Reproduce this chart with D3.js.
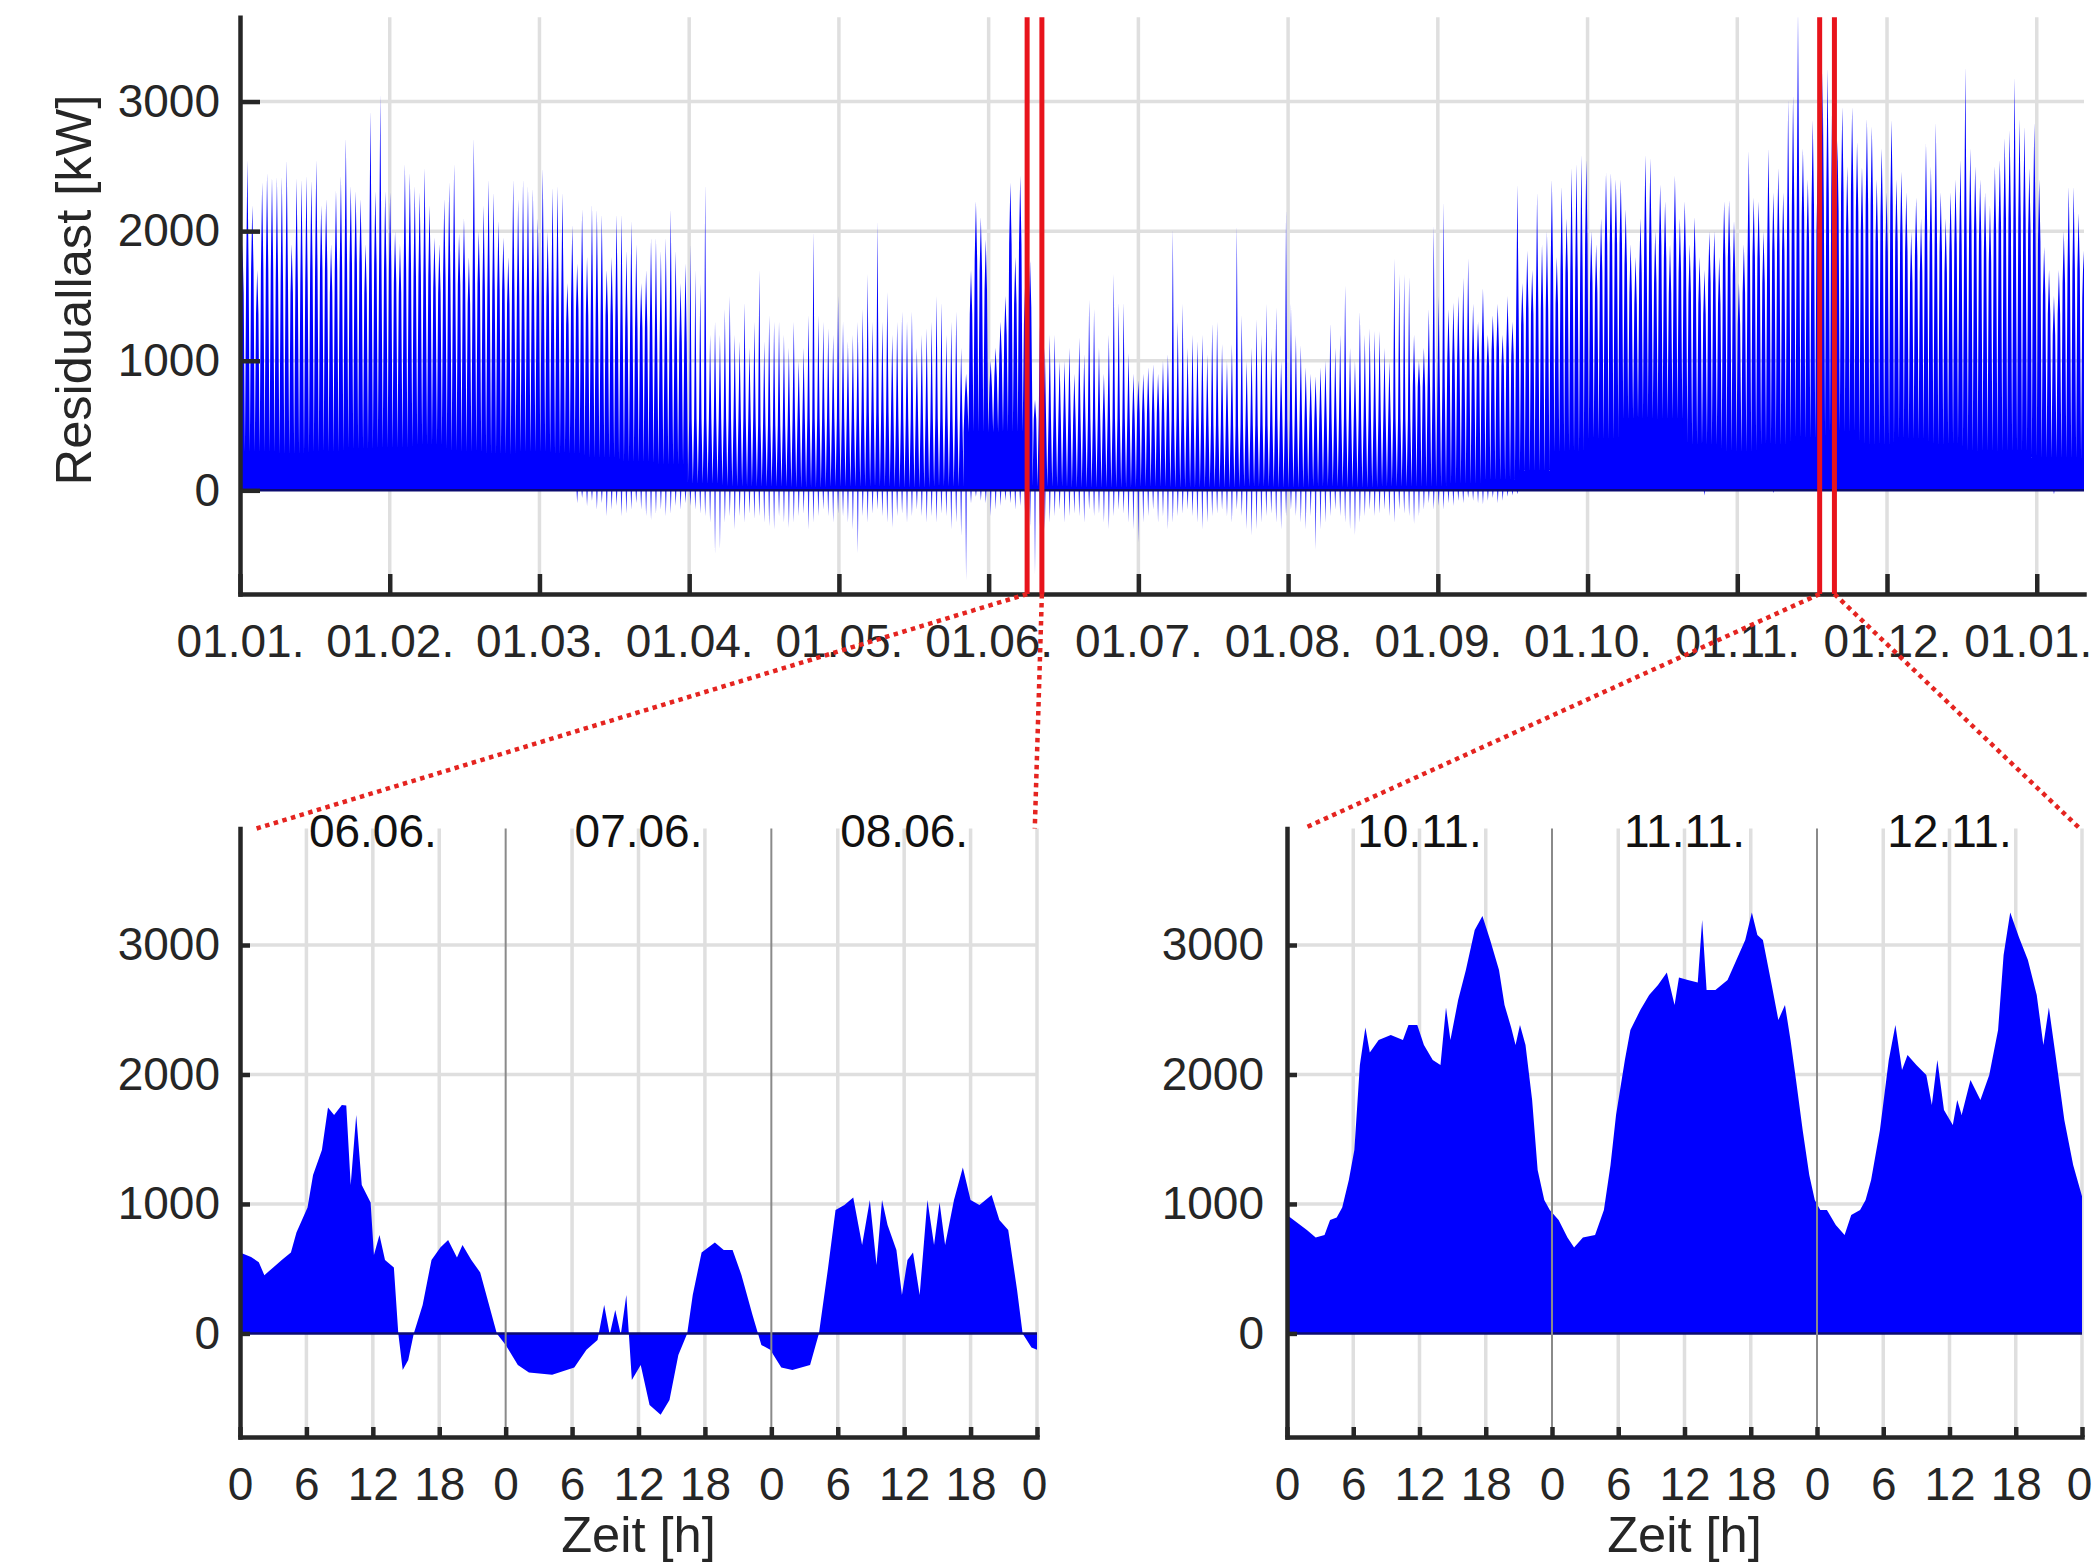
<!DOCTYPE html>
<html>
<head>
<meta charset="utf-8">
<script src="https://cdn.jsdelivr.net/npm/d3@7"></script>
<style>
  body { margin: 0; background: #fff; }
  svg text { font-family: "Liberation Sans", Arial, Helvetica, sans-serif; }
</style>
</head>
<body>
<svg id="graphic" width="2093" height="1564"></svg>
<script>
// ---- data ----

// top panel: daily peak residual load [kW], day 0 = 01.01.
const dayPeak = [
  1900, 2550, 2200, 1700, 2380, 2450, 2420, 2420, 2420, 2550,
  1900, 2410, 2400, 2430, 2390, 2550, 2200, 2250, 1900, 2320,
  2430, 2720, 2350, 2310, 2250, 1900, 2930, 2310, 3060, 2310,
  2300, 2000, 1900, 2520, 2450, 2350, 2300, 2490, 2200, 1950,
  1900, 2250, 2380, 2520, 1980, 2100, 1800, 2720, 2000, 2200,
  2400, 2300, 2080, 1950, 1800, 2400, 2250, 2400, 2350, 2330,
  2100, 2490, 2000, 2340, 2350, 2300, 1600, 2050, 1750, 2170,
  1800, 2210, 2170, 2130, 1700, 1800, 2130, 2130, 1850, 2080,
  1900, 1600, 1700, 1950, 1950, 1850, 1950, 2170, 1850, 1600,
  1750, 1900, 1700, 1600, 2370, 1200, 1300, 1200, 1400, 1500,
  1200, 1150, 1450, 1100, 1300, 1700, 1150, 1350, 1300, 1300,
  1200, 1100, 1300, 1000, 1100, 1350, 2000, 1350, 1300, 1250,
  1200, 1500, 1300, 1150, 1200, 1300, 1400, 1670, 1300, 2080,
  1300, 1530, 1200, 1300, 1380, 1300, 1380, 1100, 1200, 1250,
  1300, 1500, 1450, 1200, 1300, 1380, 1100, 900, 1700, 2230,
  2110, 1935, 1000, 1100, 1300, 1500, 2375, 1800, 2430, 1600,
  1770, 700, 1270, 1100, 1200, 1200, 1000, 1000, 1100, 900,
  1180, 1050, 1470, 1400, 1100, 900, 1200, 1670, 1450, 1450,
  1060, 900, 850, 900, 950, 970, 900, 1000, 1050, 2020,
  1300, 1440, 1100, 1200, 1150, 1200, 1050, 1290, 1300, 1130,
  1000, 1130, 2050, 1350, 1000, 1100, 1320, 1200, 1440, 1100,
  1410, 1000, 2170, 1440, 1200, 1120, 950, 900, 880, 950,
  1000, 1290, 1100, 1200, 1580, 1100, 1000, 1380, 1200, 1250,
  1230, 1230, 1100, 1000, 1790, 1670, 1670, 1650, 1200, 1000,
  1100, 1400, 2050, 1500, 2230, 1400, 1450, 1500, 1640, 1790,
  1440, 1300, 1560, 1200, 1350, 1440, 1200, 1500, 1300, 2360,
  1600, 1850, 1700, 2300, 1900, 2000, 2400, 1800, 2345, 2100,
  2490, 2520, 2590, 2550, 2000, 1900, 2100, 2450, 2450, 2400,
  2400, 2170, 1900, 1800, 2100, 2590, 2565, 2000, 2360, 2230,
  1900, 2430, 2100, 2230, 1900, 2110, 1800, 1700, 2000, 2000,
  1800, 2230, 2240, 2080, 1600, 1900, 2620, 2260, 2230, 2000,
  2640, 2300, 2490, 2300, 3020, 3050, 3700, 2640, 2400, 2860,
  2500, 3230, 3260, 3270, 2700, 2960, 2500, 2960, 2690, 2500,
  2870, 2810, 2400, 2640, 2300, 2860, 2400, 2460, 2300, 2000,
  2260, 2100, 2680, 2500, 2840, 2300, 2100, 2300, 2400, 2550,
  3270, 2640, 2500, 2400, 2300, 2200, 2500, 2550, 2720, 2780,
  3190, 2870, 2810, 2490, 2840, 2400, 1880, 1700, 1500, 1700,
  2000, 2345, 2345, 2140, 1850
];

// top panel: daily negative dips [kW], from day 68 on
const dipStartDay = 68;
const dayDips = [
  -100, -60, -120, -80, -150, -100, -200, -150, -120, -200, -180, -150,
  -100, -150, -200, -230, -180, -150, -200, -180, -120, -150, -100, -120, -150, -180, -200,
  -250, -490, -450, -250, -200, -300, -200, -250, -180, -220, -200, -250, -280, -300, -200,
  -250, -290, -250, -200, -180, -300, -250, -200, -150, -200, -250, -180, -200, -250, -300,
  -490, -200, -250, -180, -150, -200, -250, -290, -200, -180, -250, -200, -150, -200, -250,
  -200, -250, -180, -200, -300, -250, -350, -700, -100, -50, -80, -100, -200, -150, -120,
  -80, -100, -150, -120, -200, -280, -650, -280, -300, -250, -200, -150, -250, -200, -180,
  -200, -250, -150, -200, -180, -250, -300, -200, -150, -180, -250, -300, -400, -250, -200,
  -150, -250, -200, -300, -250, -200, -180, -150, -200, -250, -300, -250, -200, -180, -150,
  -200, -250, -150, -200, -300, -350, -300, -250, -200, -180, -250, -300, -200, -150, -200,
  -250, -300, -200, -460, -300, -250, -200, -150, -200, -250, -300, -345, -250, -200, -150,
  -200, -180, -150, -200, -250, -150, -180, -200, -260, -200, -150, -100, -150, -120, -150,
  -100, -120, -80, -100, -60, -80, -100, -110, -80, -60, -100, -80, -50, -40, -30
];
const lateDips = [[297, -40], [311, -20], [368, -30]];

// top panel: weekly night-time base and daytime level [kW]
const weekBase = [
  300, 280, 300, 320, 330, 350, 300, 280, 300,
  280, 250, 220, 200,
  50, 30, 30, 20, 30,
  30, 20, 30,
  450, 450,
  30, 20, 20, 30, 20, 20, 30, 20, 30, 20, 30, 30, 50,
  80, 150, 300, 400, 550, 550, 350, 300, 350, 400, 450, 350, 400, 350, 300, 300, 250, 250
];
const weekLevel = [
  1700, 1600, 1700, 1750, 1700, 1650, 1600, 1550, 1500,
  1450, 1350, 1250, 1150,
  550, 550, 500, 550, 550,
  600, 550, 550,
  1800, 1900,
  550, 550, 550, 600, 550, 500, 500, 550, 550, 550, 550, 800, 1000,
  1100, 1400, 1700, 1900, 1900, 1900, 1700, 1800, 1900, 2200, 2300, 2200, 2000, 1900, 2000, 2100, 2100, 1700
];

const monthLabels = ['01.01.', '01.02.', '01.03.', '01.04.', '01.05.', '01.06.', '01.07.',
  '01.08.', '01.09.', '01.10.', '01.11.', '01.12.', '01.01.'];

// detail windows (start day on the top axis) and their day labels
const zoomWindows = [
  { start: 159.9, days: ['06.06.', '07.06.', '08.06.'] },
  { start: 320.9, days: ['10.11.', '11.11.', '12.11.'] }
];

// lower panels: [hour, residual load kW]
const loadJune = [
  [0, 625], [1, 590], [1.7, 550], [2.2, 450], [3, 510], [3.8, 570], [4.6, 625], [5.1, 780], [5.6, 876],
  [6.1, 973], [6.6, 1224], [7.4, 1417], [7.95, 1745], [8.5, 1687], [9.2, 1765], [9.6, 1760], [10, 1146],
  [10.5, 1687], [11, 1146], [11.8, 1012], [12.1, 606], [12.6, 760], [13.1, 568], [13.9, 510], [14.3, 0],
  [14.7, -282], [15.2, -205], [15.7, 0], [16.5, 220], [17.3, 568], [18.1, 664], [18.8, 722], [19.6, 587],
  [20.1, 683], [20.9, 568], [21.7, 471], [22.5, 220], [23.2, 0], [24, -89], [25.1, -243], [26.1, -301],
  [28.2, -320], [30.2, -263], [31.3, -127], [32.3, -50], [32.9, 220], [33.4, -10], [33.9, 181], [34.4, -10],
  [34.9, 297], [35.4, -359], [36.2, -243], [37, -552], [38, -629], [38.8, -514], [39.6, -166], [40.4, 0],
  [40.9, 297], [41.7, 625], [42.9, 703], [43.7, 645], [44.5, 645], [45.3, 452], [46.3, 143], [47.1, -89],
  [47.9, -127], [48.9, -263], [49.9, -282], [51.5, -243], [52.3, 0], [53.1, 490], [53.8, 953], [54.6, 992],
  [55.4, 1050], [56.2, 683], [56.9, 1031], [57.5, 529], [58, 1031], [58.5, 838], [59.3, 645], [59.8, 297],
  [60.3, 568], [60.8, 625], [61.4, 297], [62.1, 1031], [62.7, 683], [63.2, 1012], [63.7, 683], [64.5, 1031],
  [65.3, 1282], [66, 1031], [66.8, 992], [67.9, 1070], [68.6, 876], [69.4, 799], [70.2, 336], [70.7, 0],
  [71.5, -108], [72, -127]
];
const loadNov = [
  [0, 915], [0.9, 857], [1.8, 799], [2.6, 741], [3.4, 761], [3.9, 876], [4.5, 896], [5, 973], [5.6, 1185],
  [6.1, 1417], [6.6, 2073], [7.1, 2363], [7.5, 2170], [8.3, 2266], [9.4, 2305], [10.5, 2266], [11, 2382],
  [11.8, 2382], [12.4, 2228], [13.2, 2112], [13.9, 2073], [14.4, 2517], [14.8, 2266], [15.5, 2575],
  [16.2, 2807], [17, 3116], [17.7, 3224], [18.4, 3039], [19.2, 2807], [19.7, 2537], [20.3, 2363],
  [20.7, 2228], [21.1, 2382], [21.6, 2228], [22.2, 1803], [22.7, 1263], [23.3, 1031], [23.8, 954],
  [24.6, 876], [25.4, 741], [26, 664], [26.8, 741], [27.9, 761], [28.7, 954], [29.3, 1301], [29.8, 1687],
  [30.6, 2112], [31.1, 2344], [32, 2498], [32.8, 2614], [33.6, 2691], [34.4, 2788], [35.1, 2537],
  [35.5, 2749], [36.3, 2730], [37.2, 2710], [37.6, 3193], [38, 2653], [38.8, 2653], [39.9, 2730],
  [40.7, 2884], [41.5, 3039], [42.1, 3251], [42.6, 3077], [43.1, 3039], [43.9, 2691], [44.5, 2421],
  [45.1, 2537], [45.6, 2266], [46.1, 1958], [46.7, 1571], [47.3, 1224], [47.8, 1031], [48.3, 954],
  [48.9, 954], [49.7, 838], [50.5, 761], [51.1, 915], [51.9, 954], [52.4, 1031], [52.9, 1185],
  [53.7, 1571], [54.5, 2112], [55.1, 2382], [55.7, 2035], [56.2, 2151], [57, 2073], [57.9, 1996],
  [58.4, 1764], [58.9, 2112], [59.5, 1726], [60.3, 1610], [60.7, 1803], [61.1, 1687], [61.9, 1958],
  [62.8, 1803], [63.6, 1996], [64.4, 2344], [64.9, 2923], [65.5, 3251], [66.3, 3058], [67.1, 2884],
  [67.9, 2614], [68.5, 2228], [69, 2517], [69.6, 2151], [70.4, 1648], [71.2, 1301], [72, 1060]
];

const yTickValues = [0, 1000, 2000, 3000];
const hourTicks = d3.range(0, 73, 6);

// ---- styling ----
const FONT = '"Liberation Sans", Arial, Helvetica, sans-serif';
const blue = '#0000ff';
const axisColour = '#262626';
const gridColour = '#dfdfdf';
const red = '#e8141c';

const svg = d3.select('#graphic');

function styleAxis(g) {
  g.attr('font-size', 46).attr('font-family', FONT);
  g.select('.domain').attr('stroke', axisColour).attr('stroke-width', 4.5).attr('stroke-linecap', 'square');
  g.selectAll('.tick line').attr('stroke', axisColour).attr('stroke-width', 4.5);
  g.selectAll('.tick text').attr('fill', axisColour);
}

// ================= top panel =================
const xTop = d3.scaleLinear().domain([0, 374.6]).range([240, 2084]);
const yTop = d3.scaleLinear().domain([-800, 3650]).range([594, 17.3]);
const monthTicks = d3.range(13).map(i => i * 365 / 12);

const topPanel = svg.append('g');

topPanel.append('clipPath').attr('id', 'clipTop')
  .append('rect')
  .attr('x', xTop(0)).attr('y', yTop(3650))
  .attr('width', xTop(374.6) - xTop(0)).attr('height', yTop(-800) - yTop(3650));

// grid
topPanel.append('g').selectAll('line')
  .data(yTickValues.filter(v => v !== 0))
  .join('line')
  .attr('x1', xTop(0)).attr('x2', xTop(374.6))
  .attr('y1', d => yTop(d)).attr('y2', d => yTop(d))
  .attr('stroke', gridColour).attr('stroke-width', 3.5);
topPanel.append('g').selectAll('line')
  .data(monthTicks.slice(1))
  .join('line')
  .attr('x1', d => xTop(d)).attr('x2', d => xTop(d))
  .attr('y1', yTop(3650)).attr('y2', yTop(-800))
  .attr('stroke', gridColour).attr('stroke-width', 3.5);

// one glyph per day: night base -> daytime level -> peak
const dayGlyphs = dayPeak.flatMap((p, d) => {
  const wk = Math.floor(d / 7);
  const lv = Math.min(weekLevel[wk], p * 0.8);
  const bs = Math.min(weekBase[wk], lv * 0.8);
  return [[d, bs], [d + 0.25, lv], [d + 0.5, p], [d + 0.75, lv], [d + 1, bs]];
});

const dips = dayDips.map((v, i) => [dipStartDay + i, v]).concat(lateDips);
const dipGlyphs = dips.flatMap(([d, v]) => [[d + 0.35, 0], [d + 0.5, v], [d + 0.65, 0]]);

const topArea = d3.area()
  .x(d => xTop(d[0]))
  .y0(yTop(0))
  .y1(d => yTop(d[1]));

const topData = topPanel.append('g').attr('clip-path', 'url(#clipTop)');
topData.append('path').datum(dayGlyphs).attr('d', topArea).attr('fill', blue);
topData.append('path').datum(dipGlyphs).attr('d', topArea).attr('fill', blue).attr('fill-opacity', 0.8);
topData.append('line')
  .attr('x1', xTop(0)).attr('x2', xTop(374.6))
  .attr('y1', yTop(0)).attr('y2', yTop(0))
  .attr('stroke', '#0b0b70').attr('stroke-width', 2.5);

// axes
topPanel.append('g')
  .attr('transform', `translate(${xTop(0)},0)`)
  .call(d3.axisLeft(yTop).tickValues(yTickValues).tickSize(-20).tickSizeOuter(0).tickPadding(20)
    .tickFormat(d3.format('d')))
  .call(styleAxis);
topPanel.append('g')
  .attr('transform', `translate(0,${yTop(-800)})`)
  .call(d3.axisBottom(xTop).tickValues(monthTicks).tickSize(-20).tickSizeOuter(0).tickPadding(30)
    .tickFormat((d, i) => monthLabels[i]))
  .call(styleAxis)
  .call(g => g.selectAll('.tick:last-of-type text').attr('dx', -9));

topPanel.append('text')
  .attr('transform', 'translate(91,290) rotate(-90)')
  .attr('text-anchor', 'middle')
  .attr('font-size', 50.6)
  .attr('fill', axisColour)
  .text('Residuallast [kW]');

// red window markers
zoomWindows.forEach(w => {
  [w.start, w.start + 3].forEach(d => {
    topPanel.append('line')
      .attr('x1', xTop(d)).attr('x2', xTop(d))
      .attr('y1', yTop(3650)).attr('y2', yTop(-800))
      .attr('stroke', red).attr('stroke-width', 5);
  });
});

// ================= lower panels =================
const yLow = d3.scaleLinear().domain([-800, 3900]).range([1437, 828.5]);
const panels = [
  { range: [240, 1037], data: loadJune, win: zoomWindows[0], tickPad: 20 },
  { range: [1287, 2082], data: loadNov, win: zoomWindows[1], tickPad: 23 }
];

panels.forEach(pnl => {
  const x = d3.scaleLinear().domain([0, 72]).range(pnl.range);
  const g = svg.append('g');

  g.append('g').selectAll('line')
    .data(yTickValues.filter(v => v !== 0))
    .join('line')
    .attr('x1', x(0)).attr('x2', x(72))
    .attr('y1', d => yLow(d)).attr('y2', d => yLow(d))
    .attr('stroke', gridColour).attr('stroke-width', 3.5);
  g.append('g').selectAll('line')
    .data(hourTicks.filter(h => h % 24 !== 0 || h === 72))
    .join('line')
    .attr('x1', d => x(d)).attr('x2', d => x(d))
    .attr('y1', yLow(3900)).attr('y2', yLow(-800))
    .attr('stroke', gridColour).attr('stroke-width', 3.5);

  g.append('path')
    .datum(pnl.data)
    .attr('d', d3.area().x(d => x(d[0])).y0(yLow(0)).y1(d => yLow(d[1])))
    .attr('fill', blue);
  g.append('line')
    .attr('x1', x(0)).attr('x2', x(72))
    .attr('y1', yLow(0)).attr('y2', yLow(0))
    .attr('stroke', '#0b0b70').attr('stroke-width', 2.5);

  // day separators
  g.append('g').selectAll('line')
    .data([24, 48])
    .join('line')
    .attr('x1', d => x(d)).attr('x2', d => x(d))
    .attr('y1', yLow(3900)).attr('y2', yLow(-800))
    .attr('stroke', '#8a8a8a').attr('stroke-width', 2);

  g.append('g')
    .attr('transform', `translate(${x(0)},0)`)
    .call(d3.axisLeft(yLow).tickValues(yTickValues).tickSize(-10).tickSizeOuter(0).tickPadding(pnl.tickPad)
      .tickFormat(d3.format('d')))
    .call(styleAxis);
  g.append('g')
    .attr('transform', `translate(0,${yLow(-800)})`)
    .call(d3.axisBottom(x).tickValues(hourTicks).tickSize(-10).tickSizeOuter(0).tickPadding(30)
      .tickFormat(d => d % 24))
    .call(styleAxis)
    .call(ax => ax.selectAll('.tick:last-of-type text').attr('dx', -3));

  g.selectAll('text.day')
    .data(pnl.win.days)
    .join('text')
    .attr('class', 'day')
    .attr('x', (d, i) => x(12 + 24 * i))
    .attr('y', 847)
    .attr('text-anchor', 'middle')
    .attr('font-size', 46)
    .attr('fill', '#111')
    .text(d => d);

  g.append('text')
    .attr('x', (pnl.range[0] + pnl.range[1]) / 2)
    .attr('y', 1552)
    .attr('text-anchor', 'middle')
    .attr('font-size', 50.6)
    .attr('fill', axisColour)
    .text('Zeit [h]');

  // dotted connectors from the red markers
  const connectors = [
    [xTop(pnl.win.start), x(1.5)],
    [xTop(pnl.win.start + 3), x(71.8)]
  ];
  svg.append('g').selectAll('line')
    .data(connectors)
    .join('line')
    .attr('x1', d => d[0]).attr('y1', yTop(-800))
    .attr('x2', d => d[1]).attr('y2', yLow(3900))
    .attr('stroke', '#e52420').attr('stroke-width', 4.5)
    .attr('stroke-dasharray', '4.5 4.5');
});
</script>
</body>
</html>
